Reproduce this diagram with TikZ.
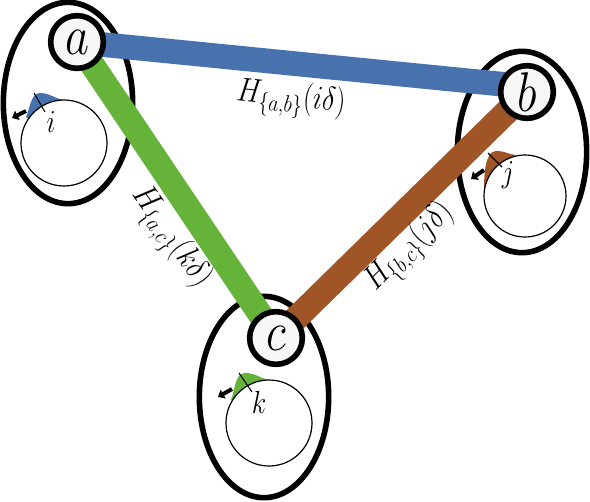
\documentclass[tikz,border=0pt]{standalone}
\usepackage{fix-cm}
\usepackage{xcolor}
\usepackage{graphicx}
\usetikzlibrary{arrows.meta,shapes.geometric}
\definecolor{edgeab}{HTML}{4872AE}
\definecolor{edgeac}{HTML}{66B33A}
\definecolor{edgebc}{HTML}{A05526}
\definecolor{vertexfill}{HTML}{F7F7F7}
\pgfdeclarelayer{top}
\pgfsetlayers{main,top}
\newcommand{\tallmath}[1]{\scalebox{1}[1.2]{$#1$}}
\tikzset{
  cloud/.style={ellipse, draw=black, line width=4.2pt, inner sep=0pt, minimum width=97pt, minimum height=151pt},
  ring/.style={circle, draw=black, line width=0.9pt, fill=white, inner sep=0pt, minimum size=64.5pt},
  link/.style={line width=18.5pt},
  vertex/.style={circle, draw=black, line width=4.2pt, fill=vertexfill, inner sep=0pt, minimum size=39.5pt, font=\fontsize{35}{36}\selectfont},
  tickline/.style={draw=black, line width=0.8pt},
  shiftarrow/.style={line width=3pt, -{Triangle[length=4.5pt,width=7.5pt]}},
  peak/.style={font=\fontsize{20}{21}\selectfont},
  weight/.style={font=\fontsize{21}{22}\selectfont, inner sep=0pt}
}
\begin{document}
\begin{tikzpicture}[x=0.75pt,y=-0.75pt]
\useasboundingbox (0,0) rectangle (590,501);

% clouds
\node[cloud] (clouda) at (68,103) {};
\node[cloud] (cloudb) at (522,152) {};
\node[cloud] (cloudc) at (264,397) {};

% bumps
\fill[edgeab] (26,117) .. controls (30,108) and (31,93) .. (40,93) .. controls (50,93) and (55,99) .. (65,100) -- (64,143) -- cycle;
\fill[edgebc] (484,190) .. controls (484,175) and (485,151) .. (496,151) .. controls (505,151) and (508,154) .. (515,155) -- (525,196) -- cycle;
\fill[edgeac] (231,400) .. controls (235,390) and (235,373) .. (245,373) .. controls (255,373) and (260,378) .. (269,380) -- (269,423) -- cycle;

% rings
\node[ring] (ringa) at (64,143) {};
\node[ring, minimum size=61.5pt] (ringb) at (525,196) {};
\node[ring] (ringc) at (269,423) {};

% vertices and links
\begin{pgfonlayer}{top}
\node[vertex] (a) at (77,42) {\tallmath{a}};
\node[vertex] (b) at (527,92) {\tallmath{b}};
\node[vertex] (c) at (276,338) {\tallmath{c}};
\end{pgfonlayer}
\draw[link, edgeab] (a.center) -- ([yshift=4pt]b.center);
\draw[link, edgeac] (a.center) -- (c.center);
\draw[link, edgebc] (b.center) -- (c.center);

% ticks and peak labels
\coordinate (tia) at (34,93);
\coordinate (tib) at (45,112);
\coordinate (tja) at (488,153);
\coordinate (tjb) at (502,167);
\coordinate (tka) at (239,373);
\coordinate (tkb) at (252,392);
\draw[tickline] (tia) -- (tib);
\draw[tickline] (tja) -- (tjb);
\draw[tickline] (tka) -- (tkb);
\node[peak] (i) at (51,122) {\tallmath{i}};
\node[peak] (j) at (508,175) {\tallmath{j}};
\node[peak] (k) at (259,402) {\tallmath{k}};

% shift arrows
\coordinate (sia) at (26,111);
\coordinate (sib) at (12,118);
\coordinate (sja) at (484,170);
\coordinate (sjb) at (471,179);
\coordinate (ska) at (232,389);
\coordinate (skb) at (218,397);
\draw[shiftarrow] (sia) -- (sib);
\draw[shiftarrow] (sja) -- (sjb);
\draw[shiftarrow] (ska) -- (skb);

% weights
\node[weight, rotate=-6] (hab) at (291,100) {\tallmath{H_{\{a,b\}}(i\delta)}};
\node[weight, rotate=-55] (hac) at (170,238) {\tallmath{H_{\{a,c\}}(k\delta)}};
\node[weight, rotate=45] (hbc) at (410,248) {\tallmath{H_{\{b,c\}}(j\delta)}};
\end{tikzpicture}
\end{document}
